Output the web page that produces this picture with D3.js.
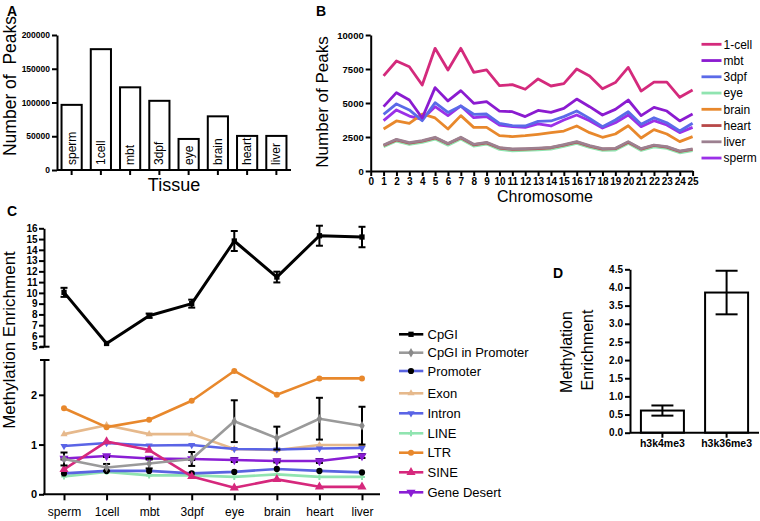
<!DOCTYPE html>
<html><head><meta charset="utf-8">
<script src="https://cdn.jsdelivr.net/npm/d3@7"></script>
<style>
body{margin:0;background:#fff}
svg{display:block;font-family:Arial,"Liberation Sans",Helvetica,sans-serif}
</style></head><body>
<svg id="c" width="760" height="521"></svg>
<script>
// ---------- Panel A data ----------
const tissues = ["sperm","1cell","mbt","3dpf","eye","brain","heart","liver"];
const peaksPerTissue = [96500,179000,122500,102500,46000,79500,50500,50500];
const peakTicks = [0,50000,100000,150000,200000];

// ---------- Panel B data ----------
const chromosomes = [1,2,3,4,5,6,7,8,9,10,11,12,13,14,15,16,17,18,19,20,21,22,23,24,25];
const chromTicks = [0,1,2,3,4,5,6,7,8,9,10,11,12,13,14,15,16,17,18,19,20,21,22,23,24,25];
const chromPeakTicks = [0,2500,5000,7500,10000];
const bSeries = ["1-cell","mbt","3dpf","eye","brain","heart","liver","sperm"];
const bColors = ["#d42a7c","#8b1bd0","#5b6ae8","#90e4b0","#e8882c","#b84848","#9c8090","#9b30e8"];
const peaks1cell = [7000,8090,7670,6320,9020,7430,9020,7260,7430,6280,6350,6010,6770,6250,6420,7500,6990,6050,6500,7620,5880,6540,6540,5420,5950];
const peaksMbt   = [4730,5760,5220,3900,6130,5150,5910,4980,5100,4410,4360,4000,4450,4310,4610,5290,4730,4120,4530,5220,4070,4680,4410,3680,4190];
const peaks3dpf  = [4170,4930,4490,3700,5020,4310,4780,4170,4190,3510,3330,3310,3650,3680,4000,4410,3870,3260,3750,4360,3430,3920,3550,2940,3510];
const peaksEye   = [1780,2200,1950,2100,2350,1900,2350,1830,1980,1590,1490,1510,1550,1610,1810,2030,1730,1510,1540,2030,1510,1780,1660,1340,1490];
const peaksBrain = [3090,3680,3510,4190,3900,3090,4070,3210,3210,2600,2530,2600,2700,2820,2940,3310,2820,2480,2720,3330,2430,3040,2720,2160,2530];
const peaksHeart = [1880,2290,2050,2190,2440,2000,2440,1930,2070,1690,1590,1610,1650,1710,1900,2120,1830,1610,1640,2120,1610,1880,1760,1440,1590];
const peaksLiver = [1910,2330,2080,2230,2480,2030,2480,1960,2110,1720,1620,1640,1680,1740,1940,2160,1860,1640,1670,2160,1640,1910,1790,1470,1620];
const peaksSperm = [3700,4490,4040,3800,4730,4070,4780,3920,4000,3380,3260,3210,3460,3310,3750,4120,3700,3160,3550,4120,3260,3700,3380,2820,3210];

// ---------- Panel C data ----------
const cTissues = ["sperm","1cell","mbt","3dpf","eye","brain","heart","liver"];
const cpgi        = [10.05,5.3,7.88,9.0,14.82,11.47,15.31,15.19];
const cpgiErr     = [0.42,0,0.2,0.37,0.93,0.5,0.93,0.95];
const cpgiProm    = [0.71,0.54,0.62,0.71,1.47,1.13,1.52,1.38];
const cpgiPromErr = [0.13,0.07,0.1,0.14,0.42,0.23,0.42,0.38];
const promoter    = [0.42,0.47,0.47,0.42,0.45,0.51,0.47,0.44];
const exon        = [1.21,1.39,1.21,1.21,0.91,0.89,0.99,0.99];
const intron      = [0.97,1.03,0.98,0.99,0.91,0.90,0.92,0.93];
const lineEl      = [0.36,0.45,0.38,0.38,0.35,0.40,0.35,0.35];
const ltr         = [1.73,1.35,1.50,1.88,2.48,2.00,2.33,2.33];
const sine        = [0.50,1.06,0.89,0.36,0.13,0.30,0.15,0.15];
const geneDesert  = [0.72,0.77,0.72,0.71,0.69,0.67,0.67,0.77];
const geneDesertErr = [0.02,0.02,0.02,0.02,0.04,0.03,0.04,0.04];
const cUpperTicks = [5,6,7,8,9,10,11,12,13,14,15,16];
const cLowerTicks = [0,1,2];
const cLegend = ["CpGI","CpGI in Promoter","Promoter","Exon","Intron","LINE","LTR","SINE","Gene Desert"];

// ---------- Panel D data ----------
const histMarks = ["h3k4me3","h3k36me3"];
const histVals = [0.61,3.86];
const histErr = [0.14,0.6];
const dTicks = [0,0.5,1,1.5,2,2.5,3,3.5,4,4.5];

const svg = d3.select("#c");
svg.append("rect").attr("width",760).attr("height",521).attr("fill","#fff");
const plain = d => String(d);

function styleAxis(g, fs){
  g.selectAll("path.domain").attr("stroke","#000").attr("stroke-width",2);
  g.selectAll(".tick line").attr("stroke","#000").attr("stroke-width",2);
  g.selectAll(".tick text").attr("font-family","Arial, 'Liberation Sans', sans-serif")
    .attr("font-weight","bold").attr("font-size",fs).attr("fill","#000");
}
function panelLabel(t,x,y){
  svg.append("text").attr("x",x).attr("y",y).attr("font-weight","bold").attr("font-size",14).text(t);
}

// ================= Panel A =================
panelLabel("A",7,16);
const ax = d3.scaleBand().domain(tissues).range([57,291]).paddingInner(0.31).paddingOuter(0.155);
const ay = d3.scaleLinear().domain([0,200000]).range([170,35]);
const gA = svg.append("g");
gA.selectAll("rect.bar").data(tissues).join("rect")
  .attr("x",d=>ax(d)).attr("width",ax.bandwidth())
  .attr("y",(d,i)=>ay(peaksPerTissue[i])).attr("height",(d,i)=>ay(0)-ay(peaksPerTissue[i]))
  .attr("fill","#fff").attr("stroke","#000").attr("stroke-width",2);
gA.selectAll("text.bl").data(tissues).join("text")
  .attr("transform",d=>`translate(${ax(d)+ax.bandwidth()/2+4},${ay(0)-5}) rotate(-90)`)
  .attr("font-size",12).text(d=>d);
const gAy = svg.append("g").attr("transform","translate(57,0)")
  .call(d3.axisLeft(ay).tickValues(peakTicks).tickFormat(plain).tickSize(5).tickSizeOuter(0).tickPadding(2));
styleAxis(gAy,8.5);
const gAx = svg.append("g").attr("transform","translate(0,170)")
  .call(d3.axisBottom(ax).tickSize(5).tickSizeOuter(0).tickFormat(""));
styleAxis(gAx,8);
gAx.select("path.domain").attr("d","M57,0H291");
svg.append("text").attr("x",174).attr("y",191).attr("text-anchor","middle").attr("font-size",18).text("Tissue");
svg.append("text").attr("transform","translate(16,86) rotate(-90)").attr("text-anchor","middle")
  .attr("font-size",17.5).attr("xml:space","preserve").text("Number of  Peaks");

// ================= Panel B =================
panelLabel("B",316,16);
const bx = d3.scaleLinear().domain([0,25]).range([370.7,692.6]);
const by = d3.scaleLinear().domain([0,10000]).range([171,35]);
const bData = [peaks1cell,peaksMbt,peaks3dpf,peaksEye,peaksBrain,peaksHeart,peaksLiver,peaksSperm];
const bOrder = [3,5,6,7,4,2,1,0];
const bLine = d3.line().x((d,i)=>bx(chromosomes[i])).y(d=>by(d));
bOrder.forEach(k=>{
  svg.append("path").attr("d",bLine(bData[k])).attr("fill","none")
    .attr("stroke",bColors[k]).attr("stroke-width",2.8).attr("stroke-linejoin","round");
});
const gBy = svg.append("g").attr("transform","translate(370.7,0)")
  .call(d3.axisLeft(by).tickValues(chromPeakTicks).tickFormat(plain).tickSize(5).tickSizeOuter(0).tickPadding(2));
styleAxis(gBy,9.5);
const gBx = svg.append("g").attr("transform","translate(0,171)")
  .call(d3.axisBottom(bx).tickValues(chromTicks).tickFormat(plain).tickSize(5).tickSizeOuter(0).tickPadding(1.5));
styleAxis(gBx,10);
svg.append("text").attr("x",545).attr("y",202).attr("text-anchor","middle").attr("font-size",16).text("Chromosome");
svg.append("text").attr("transform","translate(328,102) rotate(-90)").attr("text-anchor","middle")
  .attr("font-size",17).text("Number of Peaks");
// legend B
bSeries.forEach((s,i)=>{
  const y = 44.3 + i*16.25;
  svg.append("line").attr("x1",701.5).attr("x2",721.5).attr("y1",y).attr("y2",y)
    .attr("stroke",bColors[i]).attr("stroke-width",2.8);
  svg.append("text").attr("x",723.5).attr("y",y+4.3).attr("font-size",12).text(s);
});

// ================= Panel C =================
panelLabel("C",7,216);
const cx = d3.scalePoint().domain(cTissues).range([44,382]).padding(0.47);
const cyU = d3.scaleLinear().domain([5,16]).range([346.7,228.3]);
const cyL = d3.scaleLinear().domain([0,2.7]).range([494.3,360]);

const cSeries = [
  {name:"CpGI", vals:cpgi, err:cpgiErr, color:"#000", mcolor:"#000", sym:d3.symbolSquare, size:28, upper:true, w:3},
  {name:"CpGI in Promoter", vals:cpgiProm, err:cpgiPromErr, color:"#9a9a9a", mcolor:"#8a8a8a", sym:d3.symbolDiamond, size:26, w:2.6},
  {name:"Promoter", vals:promoter, color:"#5a64e0", mcolor:"#000", sym:d3.symbolCircle, size:30, w:2.6},
  {name:"Exon", vals:exon, color:"#e6b98c", mcolor:"#e6b98c", sym:d3.symbolTriangle, size:22, w:2.6},
  {name:"Intron", vals:intron, color:"#5a64e6", mcolor:"#5a64e6", sym:d3.symbolTriangle, rot:180, size:22, w:2.6},
  {name:"LINE", vals:lineEl, color:"#90e4b0", mcolor:"#90e4b0", sym:d3.symbolCross, size:20, w:2.6},
  {name:"LTR", vals:ltr, color:"#e8882c", mcolor:"#e8882c", sym:d3.symbolCircle, size:28, w:2.6},
  {name:"SINE", vals:sine, color:"#d6287c", mcolor:"#d6287c", sym:d3.symbolTriangle, size:36, w:2.6},
  {name:"Gene Desert", vals:geneDesert, err:geneDesertErr, color:"#8a1ed4", mcolor:"#8a1ed4", sym:d3.symbolTriangle, rot:180, size:36, w:2.6}
];
const drawOrder = [5,2,3,4,8,7,1,6,0];
function errBar(g,x,y1,y2,cap){
  g.append("line").attr("x1",x).attr("x2",x).attr("y1",y1).attr("y2",y2).attr("stroke","#000").attr("stroke-width",2);
  g.append("line").attr("x1",x-cap).attr("x2",x+cap).attr("y1",y1).attr("y2",y1).attr("stroke","#000").attr("stroke-width",2);
  g.append("line").attr("x1",x-cap).attr("x2",x+cap).attr("y1",y2).attr("y2",y2).attr("stroke","#000").attr("stroke-width",2);
}
drawOrder.forEach(k=>{
  const s = cSeries[k];
  const yS = s.upper ? cyU : cyL;
  const g = svg.append("g");
  const ln = d3.line().x((d,i)=>cx(cTissues[i])).y(d=>yS(d));
  g.append("path").attr("d",ln(s.vals)).attr("fill","none").attr("stroke",s.color)
    .attr("stroke-width",s.w).attr("stroke-linejoin","round");
  if(s.err){
    s.vals.forEach((v,i)=>{ if(s.err[i]>0) errBar(g,cx(cTissues[i]),yS(v+s.err[i]),yS(v-s.err[i]),3.5); });
  }
  s.vals.forEach((v,i)=>{
    g.append("path").attr("d",d3.symbol(s.sym,s.size)())
      .attr("transform",`translate(${cx(cTissues[i])},${yS(v)}) rotate(${s.rot||0})`)
      .attr("fill",s.mcolor);
  });
});
const gCu = svg.append("g").attr("transform","translate(44,0)")
  .call(d3.axisLeft(cyU).tickValues(cUpperTicks).tickFormat(plain).tickSize(5).tickSizeOuter(0).tickPadding(1.5));
styleAxis(gCu,10);
svg.append("line").attr("x1",40).attr("x2",49.5).attr("y1",cyU(5)).attr("y2",cyU(5)).attr("stroke","#000").attr("stroke-width",2);
const gCl = svg.append("g").attr("transform","translate(44,0)")
  .call(d3.axisLeft(cyL).tickValues(cLowerTicks).tickFormat(plain).tickSize(5).tickSizeOuter(0).tickPadding(2));
styleAxis(gCl,11);
svg.append("line").attr("x1",40).attr("x2",49.5).attr("y1",360).attr("y2",360).attr("stroke","#000").attr("stroke-width",2);
const gCx = svg.append("g").attr("transform","translate(0,494.3)")
  .call(d3.axisBottom(cx).tickSize(6).tickSizeOuter(0).tickPadding(7));
styleAxis(gCx,12);
gCx.selectAll(".tick text").attr("font-weight","normal");
gCx.select("path.domain").attr("d","M43,0H380");
svg.append("text").attr("transform","translate(15,340) rotate(-90)").attr("text-anchor","middle")
  .attr("font-size",17).text("Methylation Enrichment");
// legend C
const legY = [334.3,352.7,371,393.3,413.3,433.3,452.7,472.3,492.3];
cSeries.forEach((s,i)=>{
  const y = legY[i];
  svg.append("line").attr("x1",399).attr("x2",423.3).attr("y1",y).attr("y2",y).attr("stroke",s.color).attr("stroke-width",2.6);
  svg.append("path").attr("d",d3.symbol(s.sym,s.size)()).attr("transform",`translate(411,${y}) rotate(${s.rot||0})`).attr("fill",s.mcolor);
  svg.append("text").attr("x",427.5).attr("y",y+4.6).attr("font-size",13).text(s.name);
});

// ================= Panel D =================
panelLabel("D",553,278);
const dx = d3.scaleBand().domain(histMarks).range([630,759]).paddingInner(0.33).paddingOuter(0.17);
const dy = d3.scaleLinear().domain([0,4.5]).range([432.7,269.3]);
histMarks.forEach((m,i)=>{
  svg.append("rect").attr("x",dx(m)).attr("width",dx.bandwidth()).attr("y",dy(histVals[i]))
    .attr("height",dy(0)-dy(histVals[i])).attr("fill","#fff").attr("stroke","#000").attr("stroke-width",2);
  const c = dx(m)+dx.bandwidth()/2;
  const g = svg.append("g");
  g.append("line").attr("x1",c).attr("x2",c).attr("y1",dy(histVals[i]+histErr[i])).attr("y2",dy(histVals[i]-histErr[i])).attr("stroke","#000").attr("stroke-width",2);
  [histVals[i]+histErr[i],histVals[i]-histErr[i]].forEach(v=>{
    g.append("line").attr("x1",c-11).attr("x2",c+11).attr("y1",dy(v)).attr("y2",dy(v)).attr("stroke","#000").attr("stroke-width",2);
  });
});
const gDy = svg.append("g").attr("transform","translate(630,0)")
  .call(d3.axisLeft(dy).tickValues(dTicks).tickFormat(d3.format(".1f")).tickSize(5).tickSizeOuter(0).tickPadding(2));
styleAxis(gDy,10);
const gDx = svg.append("g").attr("transform","translate(0,432.7)")
  .call(d3.axisBottom(dx).tickSize(5).tickSizeOuter(0).tickPadding(2));
styleAxis(gDx,10.5);
gDx.select("path.domain").attr("d","M630,0H759");
svg.append("text").attr("transform","translate(572,352) rotate(-90)").attr("text-anchor","middle")
  .attr("font-size",16).text("Methylation");
svg.append("text").attr("transform","translate(593,350) rotate(-90)").attr("text-anchor","middle")
  .attr("font-size",16).text("Enrichment");
</script></body></html>
